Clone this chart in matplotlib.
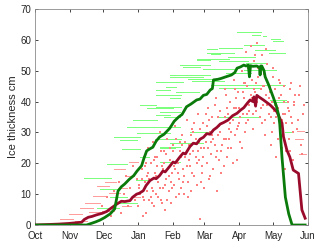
import matplotlib
matplotlib.use('Agg')
import matplotlib.pyplot as plt

# x axis: days since 1 Oct
month_ticks = [0, 31, 61, 92, 123, 151, 182, 212, 243]
month_labels = ['Oct', 'Nov', 'Dec', 'Jan', 'Feb', 'Mar', 'Apr', 'May', 'Jun']

# thick green line
green_days = [0, 46, 50, 54, 58, 62, 67, 71, 72.5, 74, 77, 80, 84, 88, 91, 95, 97, 99.5, 102, 105,
              108, 111, 115, 120, 124, 128, 131, 135, 139, 144, 147, 150, 153, 156, 158, 159, 163,
              166, 170, 175, 178, 180, 183, 186, 188, 190, 191, 192, 194, 197.5, 200, 200.5, 201,
              202, 204, 205, 208, 212, 215, 217, 218, 220, 223, 226, 229, 240.6]
green_vals = [0, 0, 0.5, 1.0, 1.6, 2.4, 3.6, 5.2, 8, 11, 12.4, 13.3, 14.8, 16, 17.5, 19.2, 21.5, 24,
              24.6, 25.2, 27.2, 28.5, 29.4, 31.3, 33.6, 35, 35.8, 38.3, 39.2, 40.5, 40.8, 42, 42.3,
              43.7, 44.2, 47, 47.2, 47.5, 48.0, 48.6, 49.4, 50.8, 51.2, 51.8, 51.5, 51.8, 48, 51.6,
              51.4, 51.5, 51, 48.6, 51.5, 51.5, 50, 48, 45.5, 41.6, 38.5, 35.6, 32.7, 21.9, 9, 3.6,
              0, 0]

# thick dark red line
red_days = [0, 21, 30, 41.6, 44, 47.5, 51, 55, 60, 64, 68, 73, 77, 80, 84.7, 87, 90.6, 93, 96.5,
            99, 102.5, 106, 108, 111, 114, 116, 120, 123, 125, 129, 132, 134, 138, 141, 144, 147,
            150, 153, 156, 159, 162, 165, 168, 172, 176, 180, 183, 186, 189, 191.6, 194, 195, 196.5,
            197.6, 199, 203.5, 209.4, 215.4, 220, 221.3, 224.3, 227, 230, 234.7, 237.7, 240.6]
red_vals = [0, 0.3, 0.5, 0.9, 1.8, 2.5, 2.8, 3.3, 3.8, 4.4, 5.5, 6.8, 7.7, 7.6, 7.9, 9, 10, 10.3,
            11.1, 12.8, 14.4, 15.2, 15.0, 16, 17.5, 17.2, 19, 20.4, 20.1, 22, 23.3, 23, 25.4, 26.5,
            26.3, 27.8, 28.4, 29.6, 29.4, 30.8, 31.6, 32.7, 33.2, 34, 35.4, 36.2, 37.2, 38, 39.4,
            40.5, 40, 41.5, 38.5, 42, 41.6, 40.5, 38.9, 36.7, 33, 28.6, 24.3, 22, 17.8, 16.7, 4.9,
            2.2]

# light green dashes: start day, end day, thickness
gseg_start = [46, 55, 58, 44, 64, 67, 73, 90, 94, 70, 82, 78, 111, 76, 107, 91, 87, 115, 111, 100,
              94, 120, 108, 117, 108, 120, 120, 132, 129, 144, 144, 157, 153, 153, 164, 186, 212,
              210, 203, 193, 180, 181, 186, 157, 164, 209, 203, 212, 223, 108, 108, 108, 164, 208,
              111, 111, 111, 138, 162, 120, 136, 150, 172, 196, 126, 140, 170, 188]
gseg_end = [155, 75, 73, 68, 82, 82, 91, 102, 102, 94, 111, 94, 129, 91, 130, 120, 109, 129, 129, 123,
            108, 129, 120, 126, 132, 156, 150, 147, 156, 156, 173, 165, 177, 162, 184, 204, 221,
            218, 206, 200, 201, 187, 215, 207, 200, 224, 223, 224, 230, 130, 130, 120, 190, 223,
            129, 125, 129, 156, 200, 150, 160, 180, 196, 214, 146, 168, 192, 206]
gseg_vals = [0, 5.5, 11.7, 15.3, 19.8, 9.2, 7.0, 14.6, 22, 28.4, 31.9, 24.7, 25.4, 27.5, 28, 29.7, 34,
             35, 36.7, 37.8, 38.9, 41, 43.7, 44.8, 46.4, 48.6, 48, 51.3, 51.9, 53.5, 53.7, 55.3,
             55.6, 56.9, 57.2, 58.2, 59.5, 60.4, 61.2, 61.7, 62.6, 62.4, 50.2, 45.3, 44.3, 40.5,
             45.4, 40.0, 30.2, 42.2, 38.3, 35.6, 53, 55.6, 31.7, 25, 20.5, 30, 35, 26.5,
             47.2, 50.6, 54.3, 56.6, 43.2, 46.8, 49.2, 52.4]

# light red dashes (early season and late)
rseg_start = [22, 30, 40, 45, 52, 55, 60, 62, 66, 70, 74, 78, 80, 84, 86, 233, 232, 235, 36, 48]
rseg_end = [34, 42, 52, 58, 62, 66, 70, 72, 76, 80, 82, 86, 88, 92, 94, 240, 239, 241, 46, 58]
rseg_vals = [2.0, 3.5, 5.5, 7.0, 9.5, 12.5, 4.5, 14.0, 10.5, 18.0, 12.0, 6.0, 16.0, 20.5, 9.0,
             30.5, 28, 23, 1.2, 4.2]

# light red dots
rdot_days = [92, 93, 95, 96, 97, 98, 99, 100, 101, 102, 103, 104, 105, 106, 107, 108, 109, 110, 111,
             112, 113, 114, 115, 116, 117, 118, 119, 120, 121, 122, 123, 124, 125, 126, 127, 128, 129,
             130, 131, 132, 133, 134, 135, 136, 137, 138, 139, 140, 141, 142, 143, 144, 145, 146, 147,
             148, 149, 150, 151, 152, 153, 154, 155, 156, 157, 158, 159, 160, 161, 162, 163, 164, 165,
             166, 167, 168, 169, 170, 171, 172, 173, 174, 175, 176, 177, 178, 179, 180, 181, 182, 183,
             184, 185, 186, 187, 188, 189, 190, 191, 192, 193, 194, 195, 196, 197, 198, 199, 200, 201,
             202, 203, 204, 205, 206, 207, 208, 209, 210, 211, 212, 213, 214, 215, 216, 217, 218, 219,
             220, 221, 222, 223, 224, 225, 226, 227, 228, 230, 231, 233, 235, 237, 239,
             60, 64, 68, 70, 72, 75, 77, 79, 81, 83, 85, 87, 89, 91,
             94, 96, 98, 100, 102, 104, 106, 108, 110, 112, 114, 116, 118, 120, 122, 124, 126, 128,
             130, 132, 134, 136, 138, 140, 142, 144, 146, 148, 150, 152, 154, 156, 158, 160, 162, 164,
             166, 168, 170, 172, 174, 176, 178, 180, 182, 184, 186, 188, 190, 192, 194, 196, 198, 200,
             202, 204, 206, 208, 210, 212, 214, 216, 218, 220, 222, 224, 226, 228, 230, 232, 234, 236,
             238, 240,
             93, 97, 101, 105, 109, 113, 117, 121, 125, 129, 133, 137, 141, 145, 149, 153, 157, 161,
             165, 169, 173, 177, 181, 185, 189, 193, 197, 201, 205, 209, 213, 217, 221, 225, 229,
             95, 99, 103, 107, 111, 115, 119, 123, 127, 131, 135, 139, 143, 147, 151, 155, 159, 163,
             167, 171, 175, 179, 183, 187, 191, 195, 199, 203, 207, 211, 215, 219, 223, 227, 231]
rdot_vals = [6, 12, 18, 9, 22, 14, 4, 16, 25, 8, 20, 12, 27, 6, 17, 10, 22, 14, 30,
             8, 19, 12, 24, 5, 15, 28, 11, 21, 7, 17, 26, 13, 32, 9, 20, 15, 24,
             12, 29, 18, 10, 22, 34, 14, 26, 19, 11, 31, 24, 16, 28, 13, 36, 21, 2,
             25, 17, 33, 12, 27, 20, 38, 15, 30, 23, 35, 18, 26, 41, 11, 29, 21, 37,
             24, 33, 19, 44, 28, 22, 36, 31, 40, 25, 34, 47, 29, 38, 21, 43, 33, 27,
             50, 36, 41, 30, 56, 45, 34, 39, 58, 47, 31, 53, 43, 37, 59, 48, 35, 44,
             55, 39, 49, 29, 42, 52, 36, 45, 26, 40, 48, 33, 44, 22, 38, 47, 30, 42,
             25, 36, 45, 18, 33, 40, 28, 44, 35, 21, 39, 31, 42, 26, 36,
             6, 9, 3, 11, 7, 14, 4, 10, 16, 6, 12, 19, 8, 15,
             10, 3, 19, 11, 15, 7, 21, 16, 9, 24, 18, 13, 8, 25, 12, 19, 28, 10,
             22, 14, 27, 9, 23, 17, 33, 20, 27, 14, 22, 36, 25, 16, 29, 39, 24, 32,
             17, 28, 42, 25, 33, 20, 44, 31, 38, 25, 46, 33, 51, 42, 36, 55, 40, 50,
             33, 45, 57, 41, 35, 51, 39, 28, 46, 34, 40, 24, 37, 46, 30, 42, 34, 45,
             23, 39,
             13, 8, 17, 11, 19, 7, 23, 14, 18, 27, 16, 21, 30, 24, 19, 32, 27, 22,
             30, 35, 28, 38, 32, 43, 36, 41, 46, 38, 34, 43, 37, 41, 31, 38, 33,
             15, 20, 9, 22, 12, 20, 16, 24, 17, 26, 19, 29, 22, 31, 25, 34, 28, 35,
             26, 38, 30, 41, 35, 46, 37, 44, 51, 45, 39, 30, 35, 29, 36, 24, 40]

plt.rcParams['font.family'] = ['Liberation Sans', 'DejaVu Sans']
fig = plt.figure(figsize=(3.2, 2.47), dpi=100)
ax = fig.add_axes([0.109, 0.089, 0.853, 0.875])

# scattered individual measurements
ax.hlines(gseg_vals, gseg_start, gseg_end, colors='#7CFF7C', linewidth=0.4,
          antialiased=False, zorder=1)
ax.hlines(rseg_vals, rseg_start, rseg_end, colors='#FF9C9C', linewidth=0.4,
          antialiased=False, zorder=1)
ax.scatter(rdot_days, rdot_vals, s=0.9, marker='s', c='#FF8080', linewidths=0, zorder=1)

# mean curves
ax.plot(red_days, red_vals, color='#9A0A2A', linewidth=2.0, zorder=3)
ax.plot(green_days, green_vals, color='#0A7A0A', linewidth=2.0, zorder=4)

ax.set_xlim(0, 243)
ax.set_ylim(0, 70)
ax.set_xticks(month_ticks)
ax.set_xticklabels(month_labels)
ax.set_yticks(range(0, 71, 10))
ax.set_ylabel('Ice thickness cm', fontsize=8, color='#262626', labelpad=2)
ax.tick_params(direction='in', length=2.5, width=0.6, top=True, right=True,
               labelsize=7, colors='#262626')
ax.tick_params(axis='x', pad=4)
ax.tick_params(axis='y', pad=2.5)
for sp in ax.spines.values():
    sp.set_color('#8A8A8A')
    sp.set_linewidth(0.6)

fig.savefig('out.png', dpi=100)
